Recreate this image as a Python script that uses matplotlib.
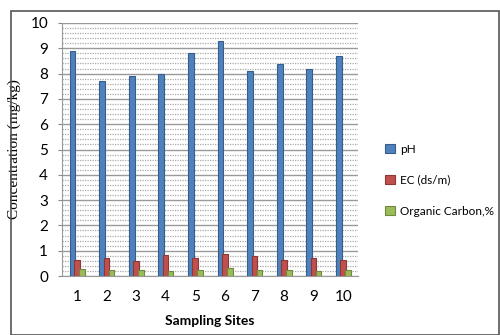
import matplotlib
matplotlib.use("Agg")
import matplotlib.pyplot as plt
import numpy as np
from matplotlib.patches import Rectangle

sites = ["1", "2", "3", "4", "5", "6", "7", "8", "9", "10"]
ph = [8.9, 7.7, 7.9, 7.98, 8.8, 9.3, 8.1, 8.38, 8.18, 8.7]
ec = [0.65, 0.72, 0.6, 0.83, 0.72, 0.87, 0.78, 0.65, 0.73, 0.63]
oc = [0.27, 0.25, 0.25, 0.2, 0.25, 0.3, 0.22, 0.22, 0.18, 0.22]
series_names = ["pH", "EC (ds/m)", "Organic Carbon,%"]
colors = ["#4F81BD", "#C0504D", "#9BBB59"]
edges = ["#385D8A", "#8C3836", "#71893F"]

W, H = 500, 335
fig = plt.figure(figsize=(W / 100, H / 100), dpi=100)
fig.patches.append(Rectangle((11 / W, 0), (W - 12) / W, (H - 11) / H, transform=fig.transFigure,
                             fill=False, edgecolor="#555555", linewidth=1.2))

ax = fig.add_axes([62 / W, (H - 276) / H, (358 - 62) / W, (276 - 23) / H])
x = np.arange(1, len(sites) + 1)
w = 0.19
for vals, off, c, e, n in zip([ph, ec, oc], [-0.145, 0.0, 0.17], colors, edges, series_names):
    ax.bar(x + off, vals, width=w, color=c, edgecolor=e, linewidth=0.8, label=n, zorder=3)

ax.set_xlim(0.5, 10.5)
ax.set_ylim(0, 10)
ax.set_yticks(range(0, 11))
ax.set_yticks(np.arange(0, 10.01, 0.2), minor=True)
ax.set_xticks(x)
ax.set_xticklabels(sites)
ax.grid(axis="y", which="major", color="#999999", linewidth=1.0, zorder=0)
ax.grid(axis="y", which="minor", color="#aaaaaa", linewidth=0.9, linestyle=(0, (1, 1)), zorder=0)
ax.tick_params(axis="y", which="minor", length=0)
ax.tick_params(axis="y", which="major", length=3, color="#888888", pad=7)
ax.tick_params(axis="x", length=0, pad=10)
for sp in ["top", "right"]:
    ax.spines[sp].set_visible(False)
ax.spines["left"].set_color("#999999")
ax.spines["bottom"].set_color("#999999")

for lab in ax.get_xticklabels() + ax.get_yticklabels():
    lab.set_fontfamily("Lato")
    lab.set_fontsize(11)

ax.set_xlabel("Sampling Sites", fontfamily="Lato", fontweight="bold", fontsize=10, labelpad=8)
ax.set_ylabel("Concentration (mg/kg)", fontfamily="Liberation Serif", fontsize=11)
ax.yaxis.set_label_coords(-(62 - 21) / (358 - 62), 0.5)

leg = fig.legend(loc="upper left", bbox_to_anchor=(374 / W, 1 - 133 / H), frameon=False,
                 prop={"family": "Lato", "size": 8.5}, handlelength=0.85, handleheight=0.85,
                 labelspacing=1.7, handletextpad=0.45)

fig.savefig("out.png", dpi=100)
